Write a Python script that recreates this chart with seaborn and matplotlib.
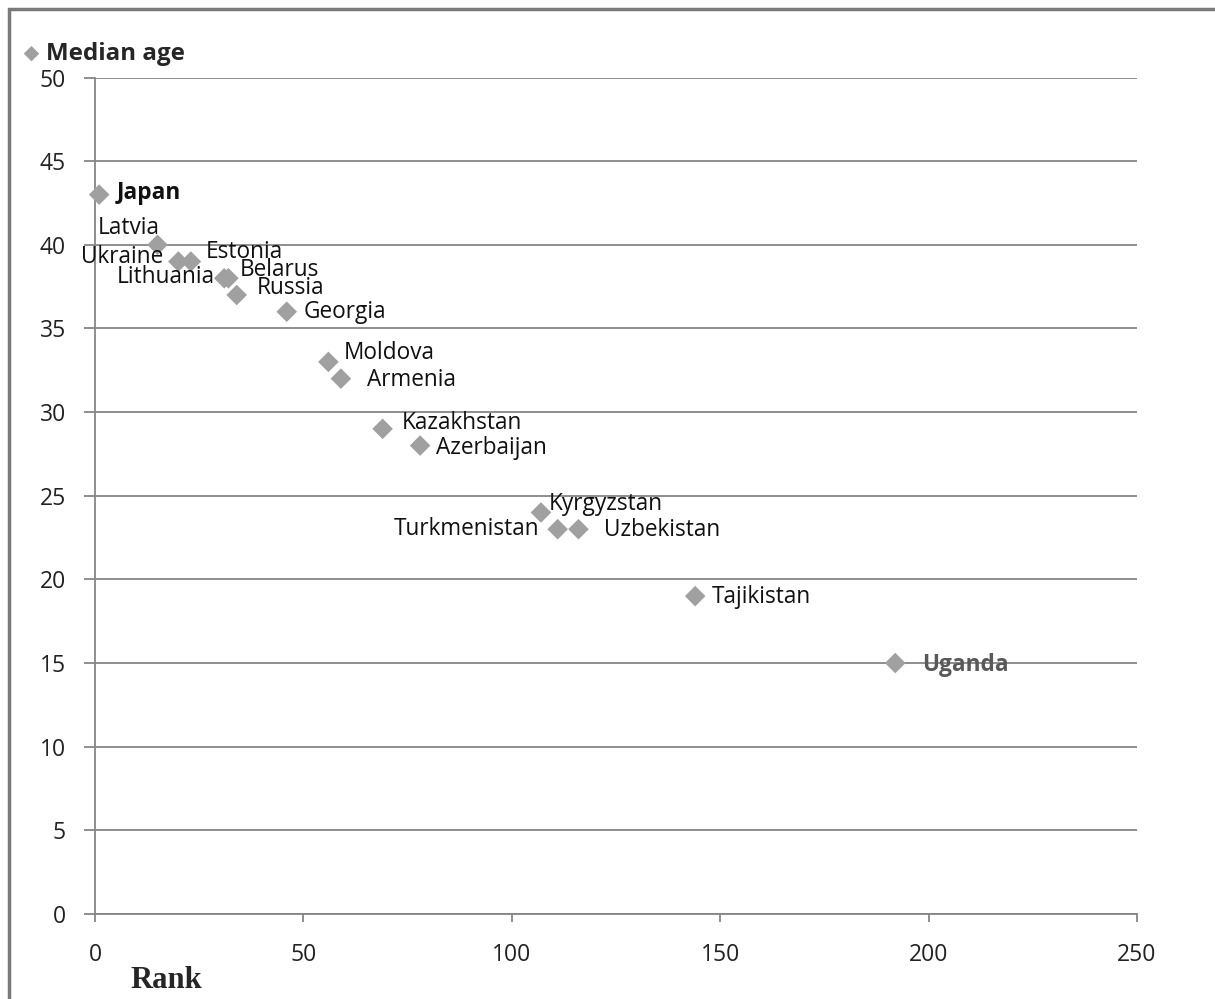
import matplotlib.pyplot as plt
from matplotlib.patches import Rectangle
import pandas as pd
import seaborn as sns

countries = ["Japan", "Latvia", "Ukraine", "Estonia", "Lithuania", "Belarus", "Russia",
             "Georgia", "Moldova", "Armenia", "Kazakhstan", "Azerbaijan", "Kyrgyzstan",
             "Turkmenistan", "Uzbekistan", "Tajikistan", "Uganda"]
rank = [1, 15, 20, 23, 31, 32, 34, 46, 56, 59, 69, 78, 107, 111, 116, 144, 192]
median_age = [43, 40, 39, 39, 38, 38, 37, 36, 33, 32, 29, 28, 24, 23, 23, 19, 15]

# label offsets in pixels (dx, dy, ha)
offsets = {
    "Japan": (18, 2, "left"), "Latvia": (2, 17, "right"), "Ukraine": (-15, 5, "right"),
    "Estonia": (15, 10, "left"), "Lithuania": (-9, 1, "right"), "Belarus": (11, 8, "left"),
    "Russia": (20, 7, "left"), "Georgia": (17, 0, "left"), "Moldova": (15, 9, "left"),
    "Armenia": (26, -1, "left"), "Kazakhstan": (19, 6, "left"), "Azerbaijan": (16, -2, "left"),
    "Kyrgyzstan": (8, 8, "left"), "Turkmenistan": (-18, 0, "right"), "Uzbekistan": (26, -1, "left"),
    "Tajikistan": (17, -1, "left"), "Uganda": (27, -2, "left"),
}

df = pd.DataFrame({"Country": countries, "Rank": rank, "Median age": median_age})

sns.set_style("white")
plt.rcParams["font.family"] = ["Open Sans", "DejaVu Sans"]

fig = plt.figure(figsize=(12.15, 9.99), dpi=100)
ax = fig.add_axes([95 / 1215, 1 - 914 / 999, (1137 - 95) / 1215, (914 - 77.5) / 999])

grid_c = "#868686"
sns.scatterplot(data=df, x="Rank", y="Median age", marker="D", s=110, color="#A0A0A0",
                edgecolor="none", label="Median age", ax=ax, zorder=3, clip_on=False)

px = 72 / 100
for c, x, y in zip(countries, rank, median_age):
    dx, dy, ha = offsets[c]
    weight = "bold" if c in ("Japan", "Uganda") else "normal"
    color = "#595959" if c == "Uganda" else "#111111"
    ax.annotate(c, (x, y), xytext=(dx * px, dy * px), textcoords="offset points",
                ha=ha, va="center", fontsize=16.3, fontweight=weight, color=color, zorder=4)

ax.set_xlim(0, 250)
ax.set_ylim(0, 50)
ax.set_xticks(range(0, 251, 50))
ax.set_yticks(range(0, 51, 5))
ax.yaxis.grid(True, color=grid_c, lw=1.3)
ax.set_axisbelow(True)
for s in ["top", "right"]:
    ax.spines[s].set_visible(False)
for s in ["left", "bottom"]:
    ax.spines[s].set_color(grid_c)
    ax.spines[s].set_linewidth(1.3)
ax.tick_params(axis="x", direction="out", length=6, width=1.3, color=grid_c, pad=15,
               labelsize=16.5, labelcolor="#222222", bottom=True)
ax.tick_params(axis="y", direction="out", length=8, width=1.3, color=grid_c, pad=13,
               labelsize=16.5, labelcolor="#222222", left=True)
ax.set_xlabel("")
ax.set_ylabel("")

ax.legend(loc="upper left", bbox_to_anchor=(17 / 1215, 1 - 42 / 999), bbox_transform=fig.transFigure,
          frameon=False, prop={"weight": "bold", "size": 17.4}, handletextpad=0.0,
          handlelength=1.2, borderpad=0, borderaxespad=0, markerscale=0.75)

fig.text(130 / 1215, 1 - 981 / 999, "Rank", fontsize=22, fontweight="bold",
         family="Liberation Serif", va="center", ha="left")

fig.patches.append(Rectangle((9 / 1215, -0.05), 1.1, 1 - 9 / 999 + 0.05, transform=fig.transFigure,
                             fill=False, edgecolor="#7a7a7a", lw=2.5))

fig.savefig("out.png", dpi=100)
